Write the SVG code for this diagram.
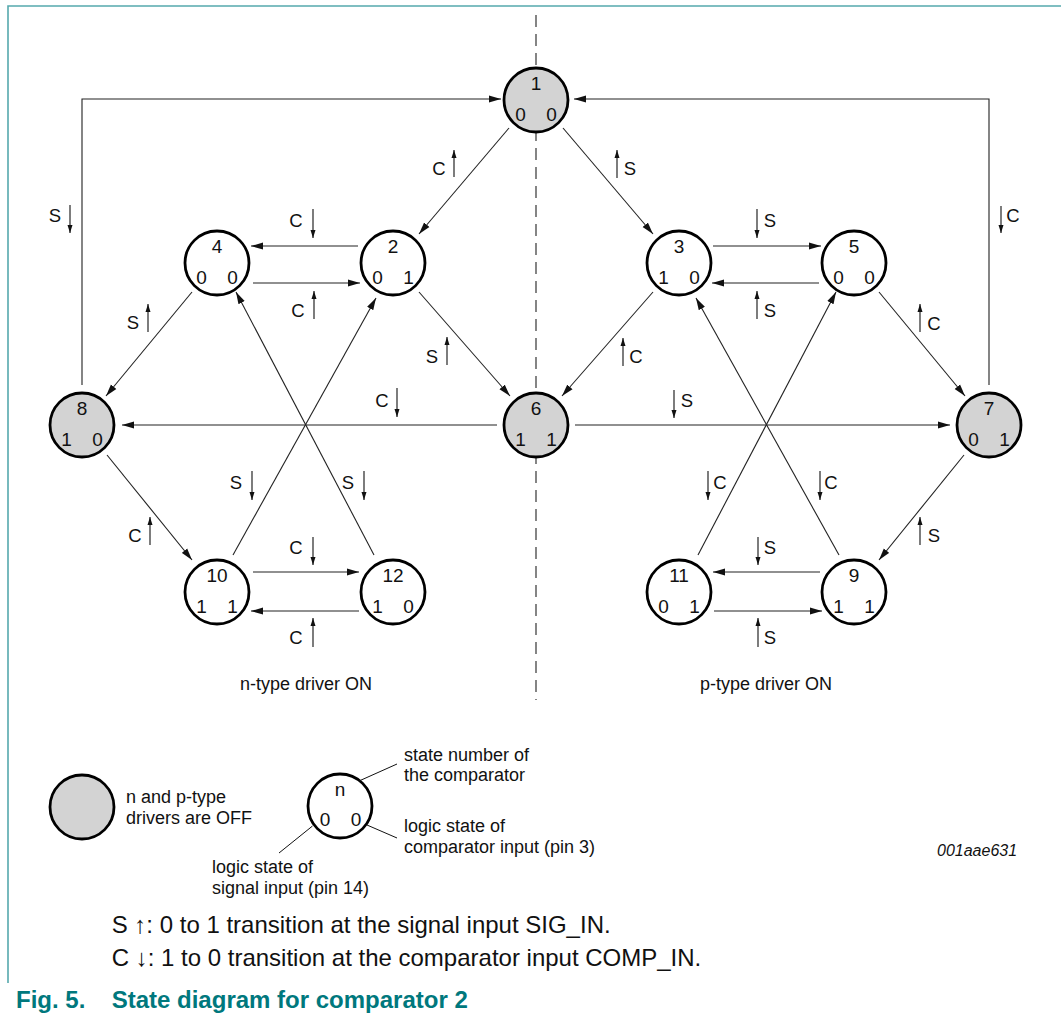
<svg xmlns="http://www.w3.org/2000/svg" width="1061" height="1019" viewBox="0 0 1061 1019">
<style>
text{font-family:"Liberation Sans",Arial,sans-serif;fill:#111}
.n circle{stroke:#000;stroke-width:2.8;fill:#fff}
.n.off circle{fill:#d3d3d3}
.n text{font-size:19px;text-anchor:middle}
.c path{fill:none;stroke:#222;stroke-width:1.1;marker-end:url(#ah)}
.l path{fill:none;stroke:#111;stroke-width:1.1;marker-end:url(#sa)}
.l text{font-size:18.5px;text-anchor:middle}
.lg{font-size:18px}
.big{font-size:24px}
.cap{font-size:24px;font-weight:bold;fill:#00787d}
</style>
<defs>
<marker id="ah" viewBox="0 0 12 8" refX="12" refY="4" markerWidth="12" markerHeight="8" markerUnits="userSpaceOnUse" orient="auto"><path d="M0,0.5 L12,4 L0,7.5 z" fill="#111"/></marker>
<marker id="sa" viewBox="0 0 8 6" refX="8" refY="3" markerWidth="8" markerHeight="6" markerUnits="userSpaceOnUse" orient="auto"><path d="M0,0.5 L8,3 L0,5.5 z" fill="#111"/></marker>
</defs>
<path d="M8,983 V6 H1061" fill="none" stroke="#56a9ad" stroke-width="1.6"/>
<line x1="536" y1="15" x2="536" y2="700" stroke="#222" stroke-width="1.1" stroke-dasharray="12,7"/>
<g id="connectors" class="c">
<path d="M82,385 V99 H501"/>
<path d="M989,385 V99 H574"/>
<path d="M509,128 L419,234"/>
<path d="M563,128 L653,234"/>
<path d="M358,246 H251"/>
<path d="M253,283 H360"/>
<path d="M713,246 H821"/>
<path d="M819,283 H712"/>
<path d="M192,292 L106,396"/>
<path d="M419,292 L510,396"/>
<path d="M653,292 L562,396"/>
<path d="M879,292 L965,396"/>
<path d="M497,425 H122"/>
<path d="M575,425 H950"/>
<path d="M107,455 L192,560"/>
<path d="M964,455 L879,560"/>
<path d="M233,555 L376,298"/>
<path d="M374,555 L236,292"/>
<path d="M698,555 L836,292"/>
<path d="M839,555 L696,298"/>
<path d="M253,572 H359"/>
<path d="M359,611 H251"/>
<path d="M820,572 H713"/>
<path d="M714,611 H822"/>
</g>
<g id="labels" class="l">
<path d="M70,205 V233"/><text x="55" y="221.5">S</text>
<path d="M1001,206 V233"/><text x="1013" y="221.5">C</text>
<path d="M454,177 V150"/><text x="439" y="174.5">C</text>
<path d="M617,178 V150"/><text x="630" y="174.5">S</text>
<path d="M313,209 V238"/><text x="296" y="226.5">C</text>
<path d="M314,319 V291"/><text x="298" y="316.5">C</text>
<path d="M757,209 V238"/><text x="770" y="226.5">S</text>
<path d="M757,319 V291"/><text x="770" y="316.5">S</text>
<path d="M148,332 V304"/><text x="133" y="328.5">S</text>
<path d="M447,365 V337"/><text x="432" y="362.5">S</text>
<path d="M623,366 V338"/><text x="636" y="362.5">C</text>
<path d="M920,332 V304"/><text x="934" y="329.5">C</text>
<path d="M397,388 V417"/><text x="382" y="406.5">C</text>
<path d="M674,390 V418"/><text x="687" y="406.5">S</text>
<path d="M150,545 V517"/><text x="135" y="541.5">C</text>
<path d="M920,545 V517"/><text x="934" y="541.5">S</text>
<path d="M252,471 V500"/><text x="236" y="488.5">S</text>
<path d="M364,471 V500"/><text x="348" y="488.5">S</text>
<path d="M708,471 V500"/><text x="720" y="488.5">C</text>
<path d="M820,471 V500"/><text x="831" y="488.5">C</text>
<path d="M313,537 V565"/><text x="296" y="553.5">C</text>
<path d="M313,647 V618"/><text x="296" y="643.5">C</text>
<path d="M758,537 V565"/><text x="770" y="553.5">S</text>
<path d="M758,647 V618"/><text x="770" y="643.5">S</text>
</g>
<g id="n1" class="n off"><circle cx="536" cy="100" r="32"/><text x="536" y="90">1</text><text x="520.5" y="120.5">0</text><text x="551.5" y="120.5">0</text></g>
<g id="n2" class="n"><circle cx="393" cy="263" r="32"/><text x="393" y="253">2</text><text x="377.5" y="283.5">0</text><text x="408.5" y="283.5">1</text></g>
<g id="n3" class="n"><circle cx="679" cy="263" r="32"/><text x="679" y="253">3</text><text x="663.5" y="283.5">1</text><text x="694.5" y="283.5">0</text></g>
<g id="n4" class="n"><circle cx="217" cy="263" r="32"/><text x="217" y="253">4</text><text x="201.5" y="283.5">0</text><text x="232.5" y="283.5">0</text></g>
<g id="n5" class="n"><circle cx="854" cy="263" r="32"/><text x="854" y="253">5</text><text x="838.5" y="283.5">0</text><text x="869.5" y="283.5">0</text></g>
<g id="n6" class="n off"><circle cx="536" cy="425" r="32"/><text x="536" y="415">6</text><text x="520.5" y="445.5">1</text><text x="551.5" y="445.5">1</text></g>
<g id="n7" class="n off"><circle cx="989" cy="425" r="32"/><text x="989" y="415">7</text><text x="973.5" y="445.5">0</text><text x="1004.5" y="445.5">1</text></g>
<g id="n8" class="n off"><circle cx="82" cy="425" r="32"/><text x="82" y="415">8</text><text x="66.5" y="445.5">1</text><text x="97.5" y="445.5">0</text></g>
<g id="n9" class="n"><circle cx="854" cy="592" r="32"/><text x="854" y="582">9</text><text x="838.5" y="612.5">1</text><text x="869.5" y="612.5">1</text></g>
<g id="n10" class="n"><circle cx="217" cy="592" r="32"/><text x="217" y="582">10</text><text x="201.5" y="612.5">1</text><text x="232.5" y="612.5">1</text></g>
<g id="n11" class="n"><circle cx="679" cy="592" r="32"/><text x="679" y="582">11</text><text x="663.5" y="612.5">0</text><text x="694.5" y="612.5">1</text></g>
<g id="n12" class="n"><circle cx="393" cy="592" r="32"/><text x="393" y="582">12</text><text x="377.5" y="612.5">1</text><text x="408.5" y="612.5">0</text></g>
<text class="lg" x="306" y="690" text-anchor="middle">n-type driver ON</text>
<text class="lg" x="766" y="690" text-anchor="middle">p-type driver ON</text>
<g id="legend-off" class="n off"><circle cx="82" cy="807" r="32"/></g>
<text class="lg" x="126" y="803">n and p-type</text>
<text class="lg" x="126" y="824">drivers are OFF</text>
<g id="legend-node" class="n"><circle cx="340" cy="806" r="32"/><text x="340" y="796">n</text><text x="325" y="826">0</text><text x="356" y="826">0</text></g>
<g stroke="#111" stroke-width="1">
<line x1="359" y1="781" x2="397" y2="764"/>
<line x1="367" y1="825" x2="397" y2="838"/>
<line x1="312.5" y1="826" x2="279" y2="853"/>
</g>
<text class="lg" x="404" y="761">state number of</text>
<text class="lg" x="404" y="781">the comparator</text>
<text class="lg" x="404" y="832">logic state of</text>
<text class="lg" x="404" y="853">comparator input (pin 3)</text>
<text class="lg" x="212" y="873">logic state of</text>
<text class="lg" x="212" y="894">signal input (pin 14)</text>
<text x="937" y="856" font-size="16" font-style="italic">001aae631</text>
<text class="big" x="111.7" y="933">S ↑: 0 to 1 transition at the signal input SIG_IN.</text>
<text class="big" x="111.7" y="965.5">C ↓: 1 to 0 transition at the comparator input COMP_IN.</text>
<text class="cap" x="16" y="1008">Fig. 5.</text>
<text class="cap" x="111.7" y="1008">State diagram for comparator 2</text>
</svg>
